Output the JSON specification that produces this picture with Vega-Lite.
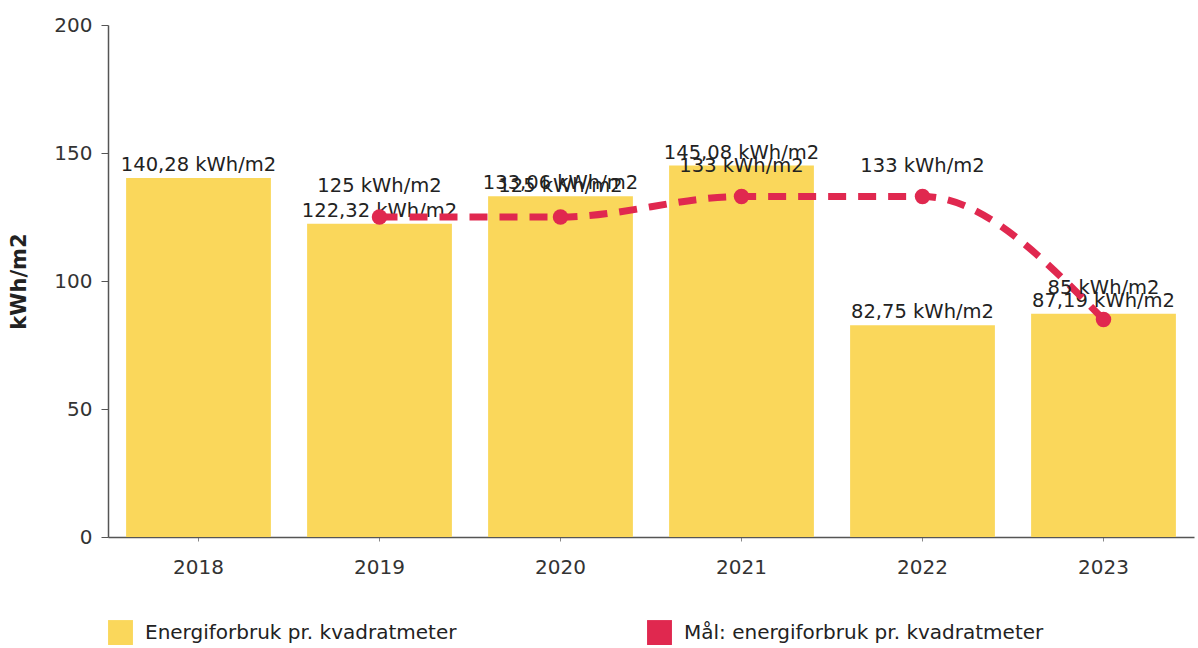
{
  "$schema": "https://vega.github.io/schema/vega-lite/v6.json",
  "width": 1086,
  "height": 512,
  "autosize": {"type": "none"},
  "padding": {"left": 108, "top": 25, "right": 4, "bottom": 111},
  "background": "white",
  "config": {
    "font": "DejaVu Sans",
    "view": {"stroke": null},
    "axis": {"labelFont": "DejaVu Sans", "titleFont": "DejaVu Sans"}
  },
  "datasets": {
    "bars": [
      {"year": "2018", "value": 140.28},
      {"year": "2019", "value": 122.32},
      {"year": "2020", "value": 133.06},
      {"year": "2021", "value": 145.08},
      {"year": "2022", "value": 82.75},
      {"year": "2023", "value": 87.19}
    ],
    "target": [
      {"year": "2019", "value": 125},
      {"year": "2020", "value": 125},
      {"year": "2021", "value": 133},
      {"year": "2022", "value": 133},
      {"year": "2023", "value": 85}
    ]
  },
  "encoding": {
    "x": {
      "field": "year", "type": "nominal",
      "scale": {"domain": ["2018","2019","2020","2021","2022","2023"], "paddingInner": 0.2, "paddingOuter": 0.1},
      "axis": {"title": null, "labelAngle": 0, "labelFontSize": 20, "labelColor": "#333333", "domainColor": "#555555", "domainWidth": 1.5, "tickColor": "#888888", "tickSize": 4, "labelPadding": 16}
    },
    "y": {
      "field": "value", "type": "quantitative",
      "scale": {"domain": [0, 200], "nice": false},
      "axis": {"title": "kWh/m2", "titleFontSize": 21, "titleFontWeight": "bold", "titleColor": "#222222", "titlePadding": 24, "values": [0,50,100,150,200], "grid": false, "labelFontSize": 20, "labelColor": "#333333", "domainColor": "#555555", "domainWidth": 1.5, "tickColor": "#555555", "tickSize": 7, "labelPadding": 9}
    }
  },
  "layer": [
    {
      "data": {"name": "bars"},
      "mark": {"type": "bar"},
      "encoding": {
        "color": {
          "datum": "Energiforbruk pr. kvadratmeter",
          "type": "nominal",
          "scale": {"domain": ["Energiforbruk pr. kvadratmeter", "Mål: energiforbruk pr. kvadratmeter"], "range": ["#fad75b", "#e0284f"]},
          "legend": {
            "title": null, "orient": "none", "direction": "horizontal",
            "legendX": 0, "legendY": 595,
            "symbolType": "square", "symbolSize": 620, "symbolStrokeWidth": 0,
            "labelFontSize": 20, "labelColor": "#222222", "labelOffset": 12,
            "columnPadding": 190, "labelLimit": 500
          }
        }
      }
    },
    {
      "data": {"name": "bars"},
      "transform": [{"calculate": "replace(toString(datum.value), '.', ',') + ' kWh/m2'", "as": "label"}],
      "mark": {"type": "text", "baseline": "bottom", "dy": -3, "fontSize": 19.5, "color": "#222222"},
      "encoding": {"text": {"field": "label"}}
    },
    {
      "data": {"name": "target"},
      "mark": {"type": "line", "interpolate": "monotone", "strokeDash": [18, 12], "strokeWidth": 7},
      "encoding": {
        "color": {"datum": "Mål: energiforbruk pr. kvadratmeter", "type": "nominal"}
      }
    },
    {
      "data": {"name": "target"},
      "mark": {"type": "point", "filled": true, "size": 240, "opacity": 1},
      "encoding": {
        "color": {"datum": "Mål: energiforbruk pr. kvadratmeter", "type": "nominal"}
      }
    },
    {
      "data": {"name": "target"},
      "transform": [{"calculate": "replace(toString(datum.value), '.', ',') + ' kWh/m2'", "as": "label"}],
      "mark": {"type": "text", "baseline": "bottom", "dy": -21, "fontSize": 19.5, "color": "#222222"},
      "encoding": {"text": {"field": "label"}}
    }
  ]
}
